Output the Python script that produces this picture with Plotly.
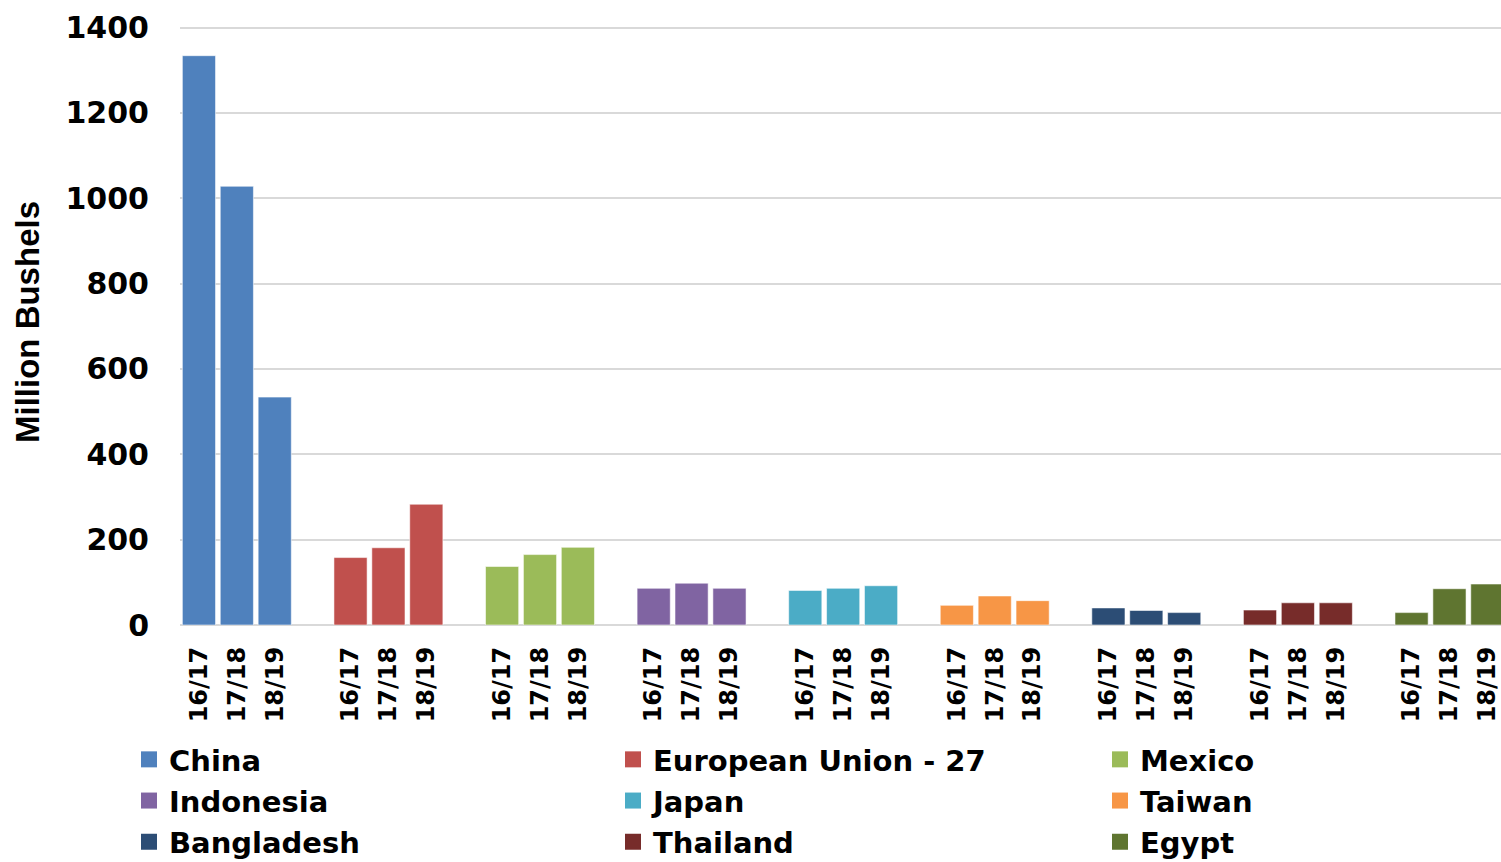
import plotly.graph_objects as go

countries = ["China", "European Union - 27", "Mexico", "Indonesia", "Japan",
             "Taiwan", "Bangladesh", "Thailand", "Egypt"]
years = ["16/17", "17/18", "18/19"]

china = [1334, 1028, 534]
eu27 = [158, 181, 283]
mexico = [137, 165, 182]
indonesia = [86, 98, 86]
japan = [81, 86, 92]
taiwan = [46, 68, 57]
bangladesh = [40, 34, 29]
thailand = [35, 52, 52]
egypt = [29, 85, 96]

series = [china, eu27, mexico, indonesia, japan, taiwan, bangladesh, thailand, egypt]
colors = ["#4F81BD", "#C0504D", "#9BBB59", "#8064A2", "#4BACC6",
          "#F79646", "#2C4D75", "#772C2A", "#5F7530"]

# category order: 3 years per country plus a blank spacer slot between groups
cat_array = []
tick_vals = []
tick_text = []
for gi, c in enumerate(countries):
    for y in years:
        key = f"{c}|{y}"
        cat_array.append(key)
        tick_vals.append(key)
        tick_text.append(y)
    if gi < len(countries) - 1:
        cat_array.append(" " * (gi + 1))

legend_ids = ["legend", "legend2", "legend3"]

fig = go.Figure()
for i, (c, vals, col) in enumerate(zip(countries, series, colors)):
    fig.add_trace(go.Bar(
        x=[f"{c}|{y}" for y in years], y=vals, name=c,
        marker=dict(color=col, line=dict(color="rgba(255,255,255,0.55)", width=1)),
        showlegend=False, legendgroup=c,
    ))
    fig.add_trace(go.Scatter(
        x=[None], y=[None], mode="markers", name=c, legendgroup=c,
        marker=dict(symbol="square", size=16, color=col),
        showlegend=True, legend=legend_ids[i % 3],
    ))

W, H = 1501, 880
L, R, T = 180, 0, 19
plot_bottom = 625
B = H - plot_bottom
pw = W - L - R
ph = H - T - B

legend_font = dict(family="DejaVu Sans", size=29, weight="bold", color="black")
col_centers_px = [149, 633, 1120]
legend_top_px = 734


def legend_cfg(cx):
    return dict(
        orientation="v",
        x=(cx - 20 - L) / pw, xanchor="left",
        y=-(legend_top_px - plot_bottom) / ph, yanchor="top",
        font=legend_font, tracegroupgap=0.5,
        itemclick=False, itemdoubleclick=False,
        bgcolor="rgba(0,0,0,0)", borderwidth=0,
    )


fig.update_layout(
    width=W, height=H,
    margin=dict(l=L, r=R, t=T, b=B),
    paper_bgcolor="white", plot_bgcolor="white",
    barmode="overlay", bargap=0.125,
    font=dict(family="DejaVu Sans", color="black"),
    showlegend=True,
    legend=legend_cfg(col_centers_px[0]),
    legend2=legend_cfg(col_centers_px[1]),
    legend3=legend_cfg(col_centers_px[2]),
    xaxis=dict(
        type="category", categoryorder="array", categoryarray=cat_array,
        tickmode="array", tickvals=tick_vals, ticktext=tick_text,
        tickangle=-90, range=[-0.5, 34.36], automargin=False,
        tickfont=dict(family="DejaVu Sans", size=24, weight="bold", color="black"),
        showgrid=False, showline=False, ticks="", ticklabelstandoff=16,
        fixedrange=True,
    ),
    yaxis=dict(
        range=[0, 1420], tickmode="linear", tick0=0, dtick=200, automargin=False,
        showgrid=True, gridcolor="#D9D9D9", gridwidth=2,
        zeroline=True, zerolinecolor="#D9D9D9", zerolinewidth=2,
        showline=False, ticks="",
        tickfont=dict(family="DejaVu Sans", size=30, weight="bold", color="black"),
        ticklabelstandoff=30,
        title=dict(text="Million Bushels", standoff=15,
                   font=dict(family="Liberation Sans", size=33, weight="bold", color="black")),
        fixedrange=True,
    ),
)

fig.write_html(
    "out.html",
    config={"displayModeBar": False, "staticPlot": True},
    post_script=("document.body.style.margin='0px';"
                 "document.body.style.overflow='hidden';"
                 "document.documentElement.style.overflow='hidden';"),
)
